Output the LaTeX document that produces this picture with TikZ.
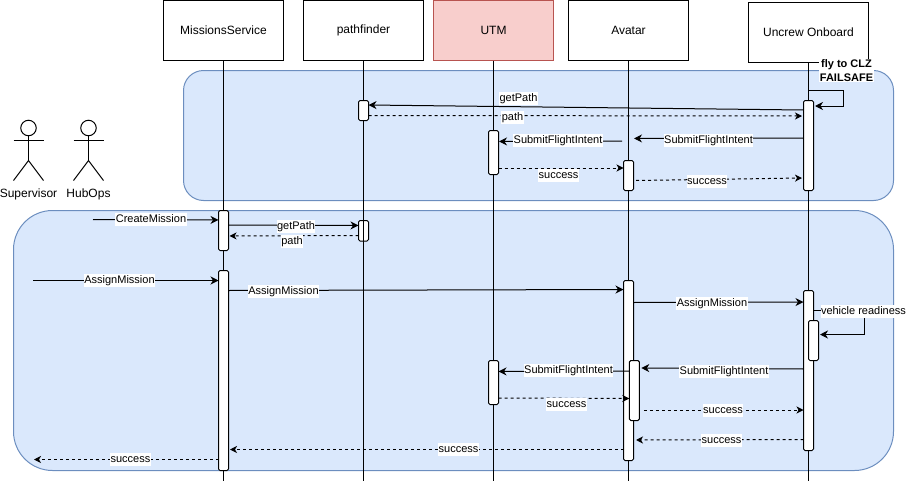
\documentclass[tikz,border=0pt]{standalone}
\usepackage{fontspec}
\setmainfont{Liberation Sans}
\usetikzlibrary{arrows.meta}
\definecolor{regionfill}{HTML}{DAE8FC}
\definecolor{regionline}{HTML}{6C8EBF}
\definecolor{utmfill}{HTML}{F8CECC}
\definecolor{utmline}{HTML}{B85450}
\tikzset{
    lifebox/.style={rectangle, draw, line width=1pt, fill=white, outer sep=0pt, minimum width=120pt, minimum height=60pt, font=\fontsize{12}{14}\selectfont},
    region/.style={draw=regionline, fill=regionfill, line width=1pt},
    bar/.style={rectangle, draw, line width=1pt, fill=white, rounded corners=1.5pt, outer sep=0pt, inner sep=0pt, minimum width=10pt},
    msg/.style={line width=1pt, -{Stealth[length=8pt, width=8pt, inset=2.5pt]}},
    reply/.style={line width=1pt, dash pattern=on 3pt off 3pt, -{Stealth[length=7pt, width=7pt, inset=2pt]}},
    lbl/.style={fill=white, inner sep=0.5pt, text height=9pt, text depth=3pt, yshift=-0.5pt, font=\fontsize{11}{13}\selectfont},
    flylbl/.style={fill=white, inner sep=0.5pt, align=center, font=\fontsize{11}{14}\selectfont\bfseries},
    actorname/.style={inner sep=0pt, font=\fontsize{12}{14}\selectfont}
}
\begin{document}
\begin{tikzpicture}[x=1pt, y=-1pt]
    \useasboundingbox (0,0) rectangle (906,482);

    % Regions
    \node (regionTop) [region, rectangle, rounded corners=20pt, minimum width=710pt, minimum height=130pt, outer sep=0pt] at (538.5,135.5) {};
    \node (regionBottom) [region, rectangle, rounded corners=39pt, minimum width=880pt, minimum height=260pt, outer sep=0pt] at (453.5,340.5) {};

    % Lifelines
    \node (missions) [lifebox] at (223.5,30.5) {MissionsService};
    \node (pathfinder) [lifebox] at (363.5,30.5) {pathfinder};
    \node (utm) [lifebox, draw=utmline, fill=utmfill] at (493.5,30.5) {UTM};
    \node (avatar) [lifebox] at (628.5,30.5) {Avatar};
    \node (uncrew) [lifebox] at (808.5,32.5) {Uncrew Onboard};
    \node (pf2) [bar, minimum height=20.5pt] at (363.5,230.75) {};
    \foreach \who in {missions, pathfinder, utm, avatar, uncrew} {
        \coordinate (\who End) at (\who.south |- 0,481);
        \draw [line width=1pt] (\who.south) -- (\who End);
    }

    % Activation bars
    \node (pf1) [bar, minimum height=20pt] at (363.5,110.5) {};
    \node (uo1) [bar, minimum height=90pt] at (808.5,145.5) {};
    \node (ut1) [bar, minimum height=44pt] at (493.5,152.5) {};
    \node (av1) [bar, minimum height=30pt] at (628.5,175.5) {};
    \node (ms1) [bar, minimum height=40pt] at (223.5,230.5) {};
    \node (ms2) [bar, minimum height=200pt] at (223.5,370.5) {};
    \node (av2) [bar, minimum height=180pt] at (628.5,370.5) {};
    \node (av3) [bar, minimum height=60pt] at (634.3,390.5) {};
    \node (uo2) [bar, minimum height=160pt] at (808.5,370.5) {};
    \node (uo3) [bar, minimum height=40pt] at (813.5,340.5) {};
    \node (ut2) [bar, minimum height=44pt] at (493.5,382.5) {};

    % Actors
    \foreach \who/\xpos in {supervisor/28.5, hubops/88.5} {
        \node (\who Head) [circle, draw, line width=1pt, inner sep=0pt, minimum size=15.5pt, outer sep=0pt] at (\xpos,128) {};
        \coordinate (\who Hip) at (\xpos,160.5);
        \draw [line width=1pt] (\who Head.south) -- (\who Hip);
        \draw [line width=1pt] (\xpos-15,140.5) -- (\xpos+15,140.5);
        \draw [line width=1pt] (\xpos-15,180.5) -- (\who Hip) -- (\xpos+15,180.5);
    }
    \node (supervisor) [actorname] at (28.5,194) {Supervisor};
    \node (hubops) [actorname] at (88.5,194) {HubOps};

    % Free ends
    \coordinate (avatarIn) at (634,138.5);
    \coordinate (avatarOut) at (622,141);
    \coordinate (createStart) at (93,219.5);
    \coordinate (assignStart) at (33,280.5);
    \coordinate (successEnd) at (34,459.5);

    % Messages, upper region
    \draw [msg] ([yshift=-9.5pt]uo1.north west) -- ([yshift=-4.5pt]pf1.north east);
    \draw [reply] ([yshift=-15pt]pf1.north east) -- ([xshift=-1.5pt, yshift=-15.5pt]uo1.north west);
    \draw [msg] ([yshift=10.5pt]uo1.north) -- ++(34.5,0) -- ++(0,16) -- ([xshift=1.5pt, yshift=-5.5pt]uo1.north east);
    \draw [msg] ([yshift=-37.5pt]uo1.north west) -- (avatarIn);
    \draw [msg] (avatarOut) -- ([xshift=0.5pt, yshift=-11pt]ut1.north east);
    \draw [reply] ([yshift=-37.5pt]ut1.north east) -- ([yshift=-7.5pt]av1.north west);
    \draw [reply] ([xshift=2.5pt, yshift=-20pt]av1.north east) -- ([xshift=-1.5pt, yshift=-77.5pt]uo1.north west);

    % Messages, lower region
    \draw [msg] (createStart) -- ([yshift=-9.5pt]ms1.north west);
    \draw [msg] ([yshift=-14.5pt]ms1.north east) -- ([yshift=-5pt]pf2.north west);
    \draw [reply] ([yshift=-15pt]pf2.north west) -- ([xshift=1pt, yshift=-25.5pt]ms1.north east);
    \draw [msg] (assignStart) -- ([yshift=-10pt]ms2.north west);
    \draw [msg] ([yshift=-20pt]ms2.north east) -- ([yshift=-9pt]av2.north west);
    \draw [msg] ([yshift=-22pt]av2.north east) -- ([yshift=-11.5pt]uo2.north west);
    \draw [msg] ([yshift=-20pt]uo2.north east) -- ++(50.5,0) -- ++(0,24) -- ([xshift=1.5pt, yshift=-14pt]uo3.north east);
    \draw [msg] ([yshift=-78.5pt]uo2.north west) -- ([xshift=2pt, yshift=-7.5pt]av3.north east);
    \draw [msg] ([yshift=-10.5pt]av3.north west) -- ([yshift=-11pt]ut2.north east);
    \draw [reply] ([yshift=-37.5pt]ut2.north east) -- ([yshift=-38pt]av3.north west);
    \draw [reply] ([xshift=4.5pt, yshift=-49.5pt]av3.north east) -- ([yshift=-119.5pt]uo2.north west);
    \draw [reply] ([yshift=-149pt]uo2.north west) -- ([xshift=2.5pt, yshift=-159.5pt]av2.north east);
    \draw [reply] ([yshift=-169pt]av2.north west) -- ([xshift=1.5pt, yshift=-179pt]ms2.north east);
    \draw [reply] ([yshift=-189pt]ms2.north west) -- (successEnd);

    % Labels
    \node (lblFly) [flylbl] at (846.5,70.5) {fly to CLZ\\FAILSAFE};
    \node (lblGetPathA) [lbl] at (518.5,98) {getPath};
    \node (lblPathA) [lbl] at (512.5,117) {path};
    \node (lblSubmitA) [lbl] at (708.5,140) {SubmitFlightIntent};
    \node (lblSubmitB) [lbl] at (558,140) {SubmitFlightIntent};
    \node (lblSuccessA) [lbl] at (558.5,174.5) {success};
    \node (lblSuccessB) [lbl] at (707,181) {success};
    \node (lblCreate) [lbl] at (151,219) {CreateMission};
    \node (lblGetPathB) [lbl] at (296,226) {getPath};
    \node (lblPathB) [lbl] at (292,241) {path};
    \node (lblAssignA) [lbl] at (119.5,279.5) {AssignMission};
    \node (lblAssignB) [lbl] at (283.5,291) {AssignMission};
    \node (lblAssignC) [lbl] at (712,303) {AssignMission};
    \node (lblReadiness) [lbl] at (863.5,310.5) {vehicle readiness};
    \node (lblSubmitC) [lbl] at (724,371) {SubmitFlightIntent};
    \node (lblSubmitD) [lbl] at (568.5,370) {SubmitFlightIntent};
    \node (lblSuccessC) [lbl] at (566.5,404) {success};
    \node (lblSuccessD) [lbl] at (723,410) {success};
    \node (lblSuccessE) [lbl] at (721.5,440) {success};
    \node (lblSuccessF) [lbl] at (458.5,449) {success};
    \node (lblSuccessG) [lbl] at (130.5,458.5) {success};
\end{tikzpicture}
\end{document}
